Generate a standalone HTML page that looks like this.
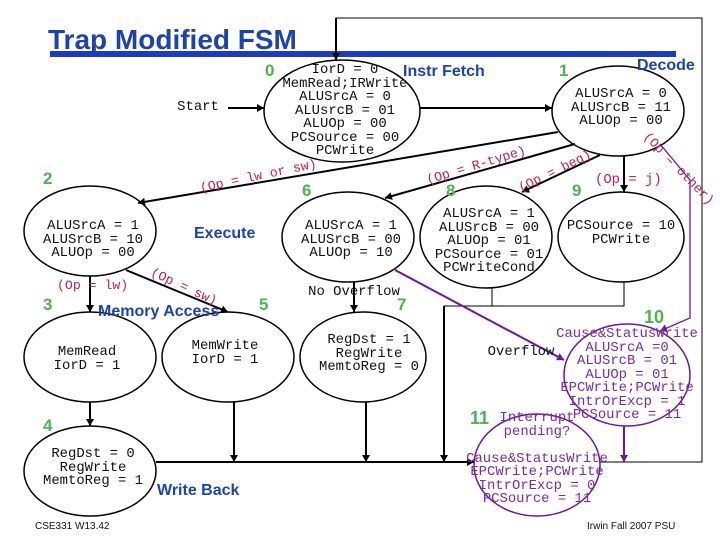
<!DOCTYPE html>
<html><head><meta charset="utf-8"><style>
html,body{margin:0;padding:0;background:#fff}
svg{display:block}
.m{font-family:"Liberation Mono",monospace;font-size:13.9px;fill:#111}
.p{font-family:"Liberation Mono",monospace;font-size:13.9px;fill:#7a2ab0}
.r{font-family:"Liberation Mono",monospace;font-size:13.2px;fill:#c4204c}
.b{font-family:"Liberation Sans",sans-serif;font-weight:bold;font-size:16px;fill:#1c44ac}
.g{font-family:"Liberation Sans",sans-serif;font-weight:bold;font-size:17px;fill:#4cb450}
.f{font-family:"Liberation Sans",sans-serif;font-size:10px;fill:#111}
ellipse{fill:none;stroke:#000;stroke-width:1.5}
line,polyline{fill:none;stroke:#000}
.t{stroke-width:2}
.v{stroke:#6a14a8}
</style></head><body>
<svg width="720" height="540" viewBox="0 0 720 540" xmlns="http://www.w3.org/2000/svg">
<rect width="720" height="540" fill="#fff"/>
<defs>
<marker id="a" markerUnits="userSpaceOnUse" markerWidth="8" markerHeight="8" refX="7" refY="4" orient="auto"><path d="M0 0L7 4L0 8Z" fill="#000"/></marker>
<marker id="c" markerUnits="userSpaceOnUse" markerWidth="8" markerHeight="8" refX="7" refY="4" orient="auto"><path d="M0 0L7 4L0 8Z" fill="#6a14a8"/></marker>
</defs>
<text x="48" y="49" font-family="Liberation Sans" font-weight="bold" font-size="28" fill="#1c44ac">Trap Modified FSM</text>
<rect x="50" y="51" width="626" height="6" fill="#1c3cc0"/>
<polyline points="336,60 336,18 702,18 702,462 600,462" stroke-width="1"/>
<line x1="336" y1="18" x2="336" y2="60" class="t" marker-end="url(#a)"/>

<ellipse cx="342" cy="111" rx="78" ry="51"/>
<ellipse cx="618" cy="111" rx="66" ry="45"/>
<ellipse cx="90" cy="231" rx="66" ry="45"/>
<ellipse cx="348" cy="237" rx="66" ry="45"/>
<ellipse cx="486" cy="237" rx="66" ry="51"/>
<ellipse cx="621" cy="237" rx="63" ry="45"/>
<ellipse cx="90" cy="357" rx="66" ry="45"/>
<ellipse cx="228" cy="357" rx="66" ry="45"/>
<ellipse cx="363" cy="357" rx="63" ry="45"/>
<ellipse cx="90" cy="471" rx="66" ry="45"/>

<line x1="228" y1="108" x2="264" y2="108" class="t" marker-end="url(#a)"/>
<line x1="420" y1="108" x2="552" y2="108" class="t" marker-end="url(#a)"/>
<line x1="558" y1="132" x2="138" y2="203" class="t" marker-end="url(#a)"/>
<line x1="575" y1="144" x2="385" y2="198" class="t" marker-end="url(#a)"/>
<line x1="600" y1="155" x2="522" y2="192" class="t" marker-end="url(#a)"/>
<line x1="624" y1="156" x2="624" y2="192" class="t" marker-end="url(#a)"/>
<line x1="90" y1="276" x2="90" y2="312" class="t" marker-end="url(#a)"/>
<line x1="126" y1="270" x2="228" y2="312" class="t" marker-end="url(#a)"/>
<line x1="354" y1="282" x2="354" y2="312" class="t" marker-end="url(#a)"/>
<line x1="90" y1="402" x2="90" y2="426" class="t" marker-end="url(#a)"/>
<line x1="234" y1="402" x2="234" y2="462" class="t" marker-end="url(#a)"/>
<line x1="366" y1="402" x2="366" y2="462" class="t" marker-end="url(#a)"/>
<line x1="444" y1="306" x2="444" y2="462" class="t" marker-end="url(#a)"/>
<line x1="156" y1="462" x2="474" y2="462" class="t" marker-end="url(#a)"/>
<polyline points="492,288 492,306 444,306" stroke-width="1"/>
<polyline points="624,282 624,306 444,306" stroke-width="1"/>

<polyline class="v" points="660,144 690,180 690,318 660,331" stroke-width="1.3" marker-end="url(#c)"/>
<line class="v t" x1="395" y1="270" x2="564" y2="360" marker-end="url(#c)"/>
<line class="v t" x1="624" y1="426" x2="624" y2="462" marker-end="url(#c)"/>
<ellipse cx="627" cy="375" rx="63" ry="51" style="stroke:#6a14a8"/>
<ellipse cx="537" cy="465" rx="63" ry="51" style="stroke:#6a14a8"/>

<g class="m" text-anchor="middle">
<text x="345" y="73">IorD = 0</text>
<text x="345" y="87">MemRead;IRWrite</text>
<text x="345" y="100">ALUSrcA = 0</text>
<text x="345" y="114">ALUsrcB = 01</text>
<text x="345" y="127">ALUOp = 00</text>
<text x="345" y="141">PCSource = 00</text>
<text x="345" y="154">PCWrite</text>
<text x="198" y="110">Start</text>
<text x="621" y="97">ALUSrcA = 0</text>
<text x="621" y="111">ALUSrcB = 11</text>
<text x="621" y="124">ALUOp = 00</text>
<text x="93" y="229">ALUSrcA = 1</text>
<text x="93" y="243">ALUSrcB = 10</text>
<text x="93" y="256">ALUOp = 00</text>
<text x="351" y="229">ALUSrcA = 1</text>
<text x="351" y="243">ALUSrcB = 00</text>
<text x="351" y="256">ALUOp = 10</text>
<text x="489" y="217">ALUSrcA = 1</text>
<text x="489" y="231">ALUSrcB = 00</text>
<text x="489" y="244">ALUOp = 01</text>
<text x="489" y="258">PCSource = 01</text>
<text x="489" y="271">PCWriteCond</text>
<text x="621" y="229">PCSource = 10</text>
<text x="621" y="243">PCWrite</text>
<text x="87" y="355">MemRead</text>
<text x="87" y="369">IorD = 1</text>
<text x="225" y="349">MemWrite</text>
<text x="225" y="363">IorD = 1</text>
<text x="369" y="343">RegDst = 1</text>
<text x="369" y="357">RegWrite</text>
<text x="369" y="370">MemtoReg = 0</text>
<text x="93" y="457">RegDst = 0</text>
<text x="93" y="471">RegWrite</text>
<text x="93" y="484">MemtoReg = 1</text>
<text x="354" y="295">No Overflow</text>
<text x="521" y="355">Overflow</text>
</g>

<g class="p" text-anchor="middle">
<text x="627" y="337">Cause&amp;StatusWrite</text>
<text x="627" y="351">ALUSrcA =0</text>
<text x="627" y="364">ALUSrcB = 01</text>
<text x="627" y="378">ALUOp = 01</text>
<text x="627" y="391">EPCWrite;PCWrite</text>
<text x="627" y="405">IntrOrExcp = 1</text>
<text x="627" y="418">PCSource = 11</text>
<text x="537" y="421">Interrupt</text>
<text x="537" y="435">pending?</text>
<text x="537" y="462">Cause&amp;StatusWrite</text>
<text x="537" y="475">EPCWrite;PCWrite</text>
<text x="537" y="489">IntrOrExcp = 0</text>
<text x="537" y="502">PCSource = 11</text>
</g>

<g class="r">
<text transform="translate(201,192) rotate(-12)">(Op = lw or sw)</text>
<text transform="translate(428,184) rotate(-17)">(Op = R-type)</text>
<text transform="translate(521,192) rotate(-26)">(Op = beq)</text>
<text x="595" y="183" style="font-size:13.9px">(Op = j)</text>
<text transform="translate(643,137) rotate(46)">(Op = other)</text>
<text x="57" y="289" style="font-size:13.2px">(Op = lw)</text>
<text transform="translate(150,275) rotate(25)">(Op = sw)</text>
</g>

<g class="b">
<text x="403" y="76">Instr Fetch</text>
<text x="637" y="70">Decode</text>
<text x="194" y="238">Execute</text>
<text x="98" y="316">Memory Access</text>
<text x="157" y="495">Write Back</text>
</g>

<g class="g">
<text x="265" y="76">0</text>
<text x="559" y="76">1</text>
<text x="43" y="184">2</text>
<text x="302" y="196">6</text>
<text x="446" y="196">8</text>
<text x="572" y="196">9</text>
<text x="43" y="310">3</text>
<text x="259" y="310">5</text>
<text x="397" y="310">7</text>
<text x="43" y="431">4</text>
<text x="644" y="323" style="font-size:18px">10</text>
<text x="470" y="424" style="font-size:18px">11</text>
</g>

<text class="f" x="35" y="529">CSE331 W13.42</text>
<text class="f" x="587" y="529">Irwin Fall 2007 PSU</text>
</svg>
</body></html>
